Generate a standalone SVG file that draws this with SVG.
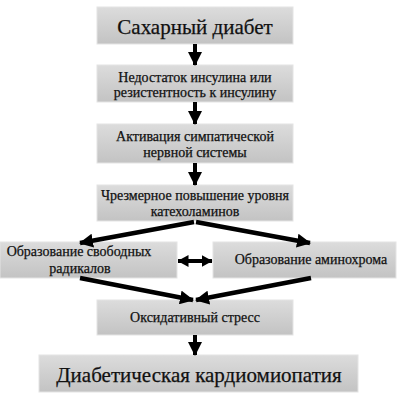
<svg xmlns="http://www.w3.org/2000/svg" width="400" height="396" viewBox="0 0 400 396">
<defs>
<linearGradient id="g" x1="0" y1="0" x2="0" y2="1">
<stop offset="0" stop-color="#dcdcdc"/>
<stop offset="1" stop-color="#c3c3c3"/>
</linearGradient>
<marker id="ah" markerUnits="userSpaceOnUse" markerWidth="14" markerHeight="14" viewBox="0 0 14 14" refX="13" refY="7" orient="auto-start-reverse">
<path d="M0,0 L14,7 L0,14 z" fill="#000"/>
</marker>
<marker id="ah2" markerUnits="userSpaceOnUse" markerWidth="11" markerHeight="12" viewBox="0 0 11 12" refX="10.5" refY="6" orient="auto-start-reverse">
<path d="M0,0 L11,6 L0,12 z" fill="#000"/>
</marker>
</defs>
<style>
.box{fill:url(#g);stroke:#e4e4e4;stroke-width:1}
text{font-family:"Liberation Serif","Times New Roman",serif;fill:#111;stroke:#111;stroke-width:0.25;text-anchor:middle}
.big{font-size:21px}
.t{font-size:14px}
.c{stroke:#000;fill:none;marker-end:url(#ah)}
</style>
<rect width="400" height="396" fill="#fff"/>
<g id="n1"><rect class="box" x="97" y="7" width="196" height="37"/><text class="big" x="195" y="34">Сахарный диабет</text></g>
<g id="n2"><rect class="box" x="97" y="65" width="196" height="37"/><text class="t" x="195" y="82">Недостаток инсулина или</text><text class="t" x="195" y="97">резистентность к инсулину</text></g>
<g id="n3"><rect class="box" x="97" y="124" width="196" height="39"/><text class="t" x="195" y="141">Активация симпатической</text><text class="t" x="195" y="157">нервной системы</text></g>
<g id="n4"><rect class="box" x="97" y="185" width="196" height="36"/><text class="t" x="195" y="200">Чрезмерное повышение уровня</text><text class="t" x="195" y="216">катехоламинов</text></g>
<g id="n5"><rect class="box" x="0" y="242" width="177" height="36"/><text class="t" x="79" y="256">Образование свободных</text><text class="t" x="80" y="273">радикалов</text></g>
<g id="n6"><rect class="box" x="213" y="242" width="183" height="36"/><text class="t" x="311" y="264">Образование аминохрома</text></g>
<g id="n7"><rect class="box" x="97" y="300" width="196" height="35"/><text class="t" x="195" y="322">Оксидативный стресс</text></g>
<g id="n8"><rect class="box" x="39" y="355" width="319" height="37"/><text class="big" x="199" y="382">Диабетическая кардиомиопатия</text></g>
<g id="connectors">
<line class="c" x1="195" y1="44" x2="195" y2="65" stroke-width="4"/>
<line class="c" x1="195" y1="102" x2="195" y2="124" stroke-width="4"/>
<line class="c" x1="195" y1="163" x2="195" y2="185" stroke-width="4"/>
<line class="c" x1="194" y1="222" x2="80" y2="243" stroke-width="4.5"/>
<line class="c" x1="196" y1="222" x2="310" y2="243" stroke-width="4.5"/>
<line class="c" x1="80" y1="278" x2="193" y2="300" stroke-width="4.5"/>
<line class="c" x1="311" y1="278" x2="196" y2="300" stroke-width="4.5"/>
<line x1="178" y1="261" x2="212" y2="261" stroke="#000" stroke-width="4" marker-start="url(#ah2)" marker-end="url(#ah2)"/>
<line class="c" x1="195" y1="335" x2="195" y2="355" stroke-width="4"/>
</g>
</svg>
